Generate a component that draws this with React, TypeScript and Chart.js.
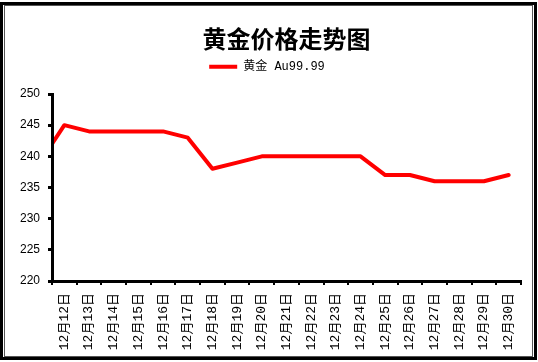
import React, { useEffect, useRef } from 'react';
import { Chart, registerables } from 'chart.js';

Chart.register(...registerables);

// ---- data ----
const chartTitle = '黄金价格走势图';
const seriesName = '黄金 Au99.99';
// first category (12月11日) lies just left of the visible range; the line enters from it
const categories = [
  '12月11日', '12月12日', '12月13日', '12月14日', '12月15日', '12月16日', '12月17日',
  '12月18日', '12月19日', '12月20日', '12月21日', '12月22日', '12月23日', '12月24日',
  '12月25日', '12月26日', '12月27日', '12月28日', '12月29日', '12月30日',
];
const goldPrices = [
  239, 245, 244, 244, 244, 244, 243,
  238, 239, 240, 240, 240, 240, 240,
  237, 237, 236, 236, 236, 237,
];
const yMin = 220;
const yMax = 250;
const yStep = 5;

const CJK = "'Noto Sans CJK SC'";
const MONO_CJK = "'Liberation Mono', 'Noto Sans CJK SC'";
const RED = '#ff0000';

export default function App() {
  const canvasRef = useRef<HTMLCanvasElement | null>(null);

  useEffect(() => {
    if (!canvasRef.current) return;
    const chart = new Chart(canvasRef.current, {
      type: 'line',
      data: {
        labels: categories,
        datasets: [
          {
            label: seriesName,
            data: goldPrices,
            borderColor: RED,
            backgroundColor: RED,
            borderWidth: 4,
            pointRadius: 0,
            pointHoverRadius: 0,
            tension: 0,
            fill: false,
            borderJoinStyle: 'round',
            borderCapStyle: 'round',
            clip: 0,
          },
        ],
      },
      options: {
        responsive: false,
        animation: false,
        events: [],
        layout: { padding: { left: 13, right: 17, top: 0, bottom: 6 } },
        plugins: {
          title: {
            display: true,
            text: chartTitle,
            color: '#000',
            fullSize: false,
            font: { family: CJK, size: 24, weight: 'bold' },
            padding: { top: 24, bottom: 0 },
          },
          legend: {
            display: true,
            position: 'top',
            labels: {
              boxWidth: 28,
              boxHeight: 4,
              padding: 8,
              color: '#000',
              font: { family: MONO_CJK, size: 12 },
              generateLabels: (c: any) =>
                (Chart.defaults.plugins.legend.labels as any)
                  .generateLabels(c)
                  .map((l: any) => ({ ...l, lineWidth: 0, fillStyle: RED })),
            },
          },
          subtitle: {
            display: true,
            text: ' ',
            position: 'top',
            weight: 500,
            font: { size: 1 },
            padding: { top: 0, bottom: 10 },
          },
          tooltip: { enabled: false },
        },
        scales: {
          x: {
            type: 'category',
            min: categories[1],
            offset: true,
            grid: {
              display: true,
              drawOnChartArea: false,
              drawTicks: true,
              tickLength: 4,
              color: '#000',
              lineWidth: 2,
              offset: true,
            },
            border: { display: true, color: '#000', width: 3, z: 1 },
            ticks: {
              color: '#000',
              font: { family: MONO_CJK, size: 13 },
              minRotation: 90,
              maxRotation: 90,
              autoSkip: false,
              padding: 8,
            },
            afterFit: (s: any) => {
              s.height = 75;
            },
          },
          y: {
            min: yMin,
            max: yMax,
            ticks: {
              stepSize: yStep,
              color: '#000',
              font: { family: "'Liberation Sans'", size: 12 },
              padding: 8,
            },
            grid: {
              display: true,
              drawOnChartArea: false,
              tickLength: 4,
              color: '#000',
              lineWidth: 3,
            },
            border: { display: true, color: '#000', width: 3, z: 1 },
            afterFit: (s: any) => {
              s.width = 39;
            },
          },
        },
      } as any,
    });
    return () => chart.destroy();
  }, []);

  return (
    <div style={{ position: 'absolute', left: 0, top: 0, width: 538, height: 362, background: '#fff' }}>
      <canvas ref={canvasRef} width={538} height={362} style={{ position: 'absolute', left: 0, top: 0, width: 538, height: 362 }} />
      <div
        style={{
          position: 'absolute', left: 0, top: 2, width: 537, height: 358,
          border: '3px solid #000', boxSizing: 'border-box', pointerEvents: 'none',
        }}
      />
      <div
        style={{
          position: 'absolute', left: 4, top: 5, width: 529, height: 352,
          border: '1px solid #555', boxSizing: 'border-box', pointerEvents: 'none',
        }}
      />
    </div>
  );
}
